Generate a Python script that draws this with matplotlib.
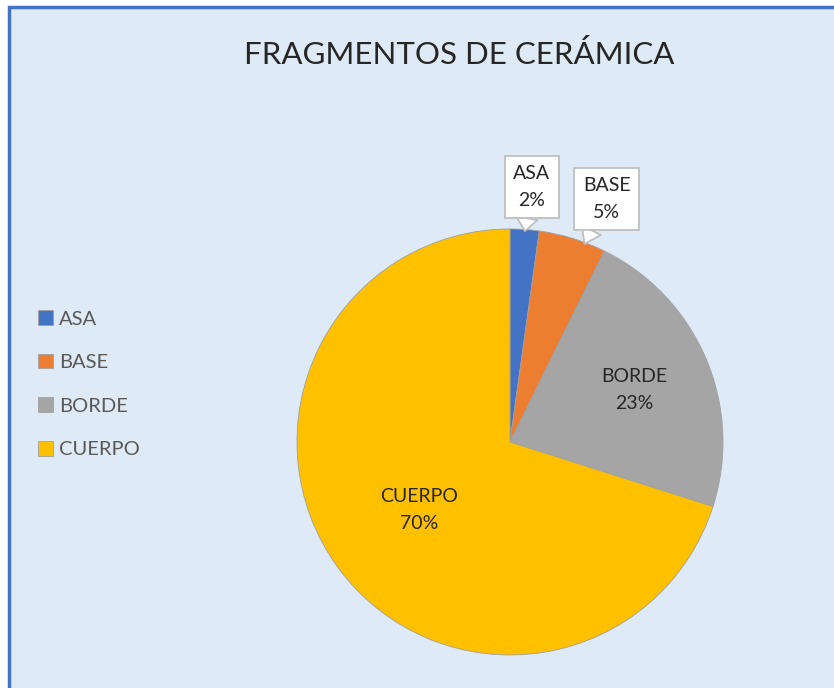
import matplotlib.pyplot as plt
from matplotlib.patches import Rectangle

# Datos del gráfico (porcentajes)
categorias = ["ASA", "BASE", "BORDE", "CUERPO"]
valores = [2.2, 5.1, 22.6, 70.1]
colores = ["#4472C4", "#ED7D31", "#A5A5A5", "#FFC000"]
etiquetas = ["ASA\n2%", "BASE\n5%", "BORDE\n23%", "CUERPO\n70%"]

plt.rcParams['font.family'] = ['Lato', 'DejaVu Sans']
fondo = "#DEEBF7"

fig = plt.figure(figsize=(8.34, 6.88), dpi=100)
fig.patch.set_facecolor("white")

# Fondo y marco del área del gráfico
ax_bg = fig.add_axes([0, 0, 1, 1], zorder=-1)
ax_bg.axis("off")
ax_bg.add_patch(Rectangle((9/834, -0.05), 1.1, 1 - 7/688 + 0.05, transform=ax_bg.transAxes,
                          facecolor=fondo, edgecolor="#4472C4", linewidth=2.5, clip_on=False))

fig.text(459/834, 1 - 55/688, "FRAGMENTOS DE CERÁMICA", ha="center", va="center",
         fontsize=22.5, color="#262626")

ax = fig.add_axes([0.3561, 0.048, 0.5108, 0.6192])
ax.set_facecolor("none")
wedges, _ = ax.pie(valores, colors=colores, startangle=90, counterclock=False,
                   wedgeprops=dict(edgecolor="#A0A0A0", linewidth=0.6))
ax.set_xlim(-1, 1)
ax.set_ylim(-1, 1)
ax.set_aspect("equal")
ax.axis("off")

# Etiquetas dentro del pastel
ax.text(0.582, 0.244, etiquetas[2], ha="center", va="center", fontsize=14, color="#262626",
        linespacing=1.7)
ax.text(-0.427, -0.319, etiquetas[3], ha="center", va="center", fontsize=14, color="#262626",
        linespacing=1.7)

# Llamadas (callouts) para las porciones pequeñas
caja = dict(boxstyle="square,pad=0.45", fc="white", ec="#BFBFBF", lw=1.3)
flecha = dict(arrowstyle="wedge,tail_width=1.1,shrink_factor=0.5", fc="white", ec="#BFBFBF",
              lw=1.3, shrinkA=0, shrinkB=0)
ax.annotate(etiquetas[0], xy=(0.07, 0.99), xytext=(0.103, 1.197), ha="center", va="center",
            fontsize=14, color="#262626", bbox=caja, arrowprops=flecha, linespacing=1.7,
            annotation_clip=False)
ax.annotate(etiquetas[1], xy=(0.35, 0.93), xytext=(0.455, 1.141), ha="center", va="center",
            fontsize=14, color="#262626", bbox=caja, arrowprops=flecha, linespacing=1.7,
            annotation_clip=False)

# Leyenda
leg = fig.legend(wedges, categorias, loc="upper left", bbox_to_anchor=(20/834, 1 - 292/688),
                 frameon=False, fontsize=14.5, labelspacing=1.3, handlelength=0.75,
                 handleheight=0.75, handletextpad=0.3, labelcolor="#595959")

fig.savefig("out.png", dpi=100, facecolor=fig.get_facecolor())
